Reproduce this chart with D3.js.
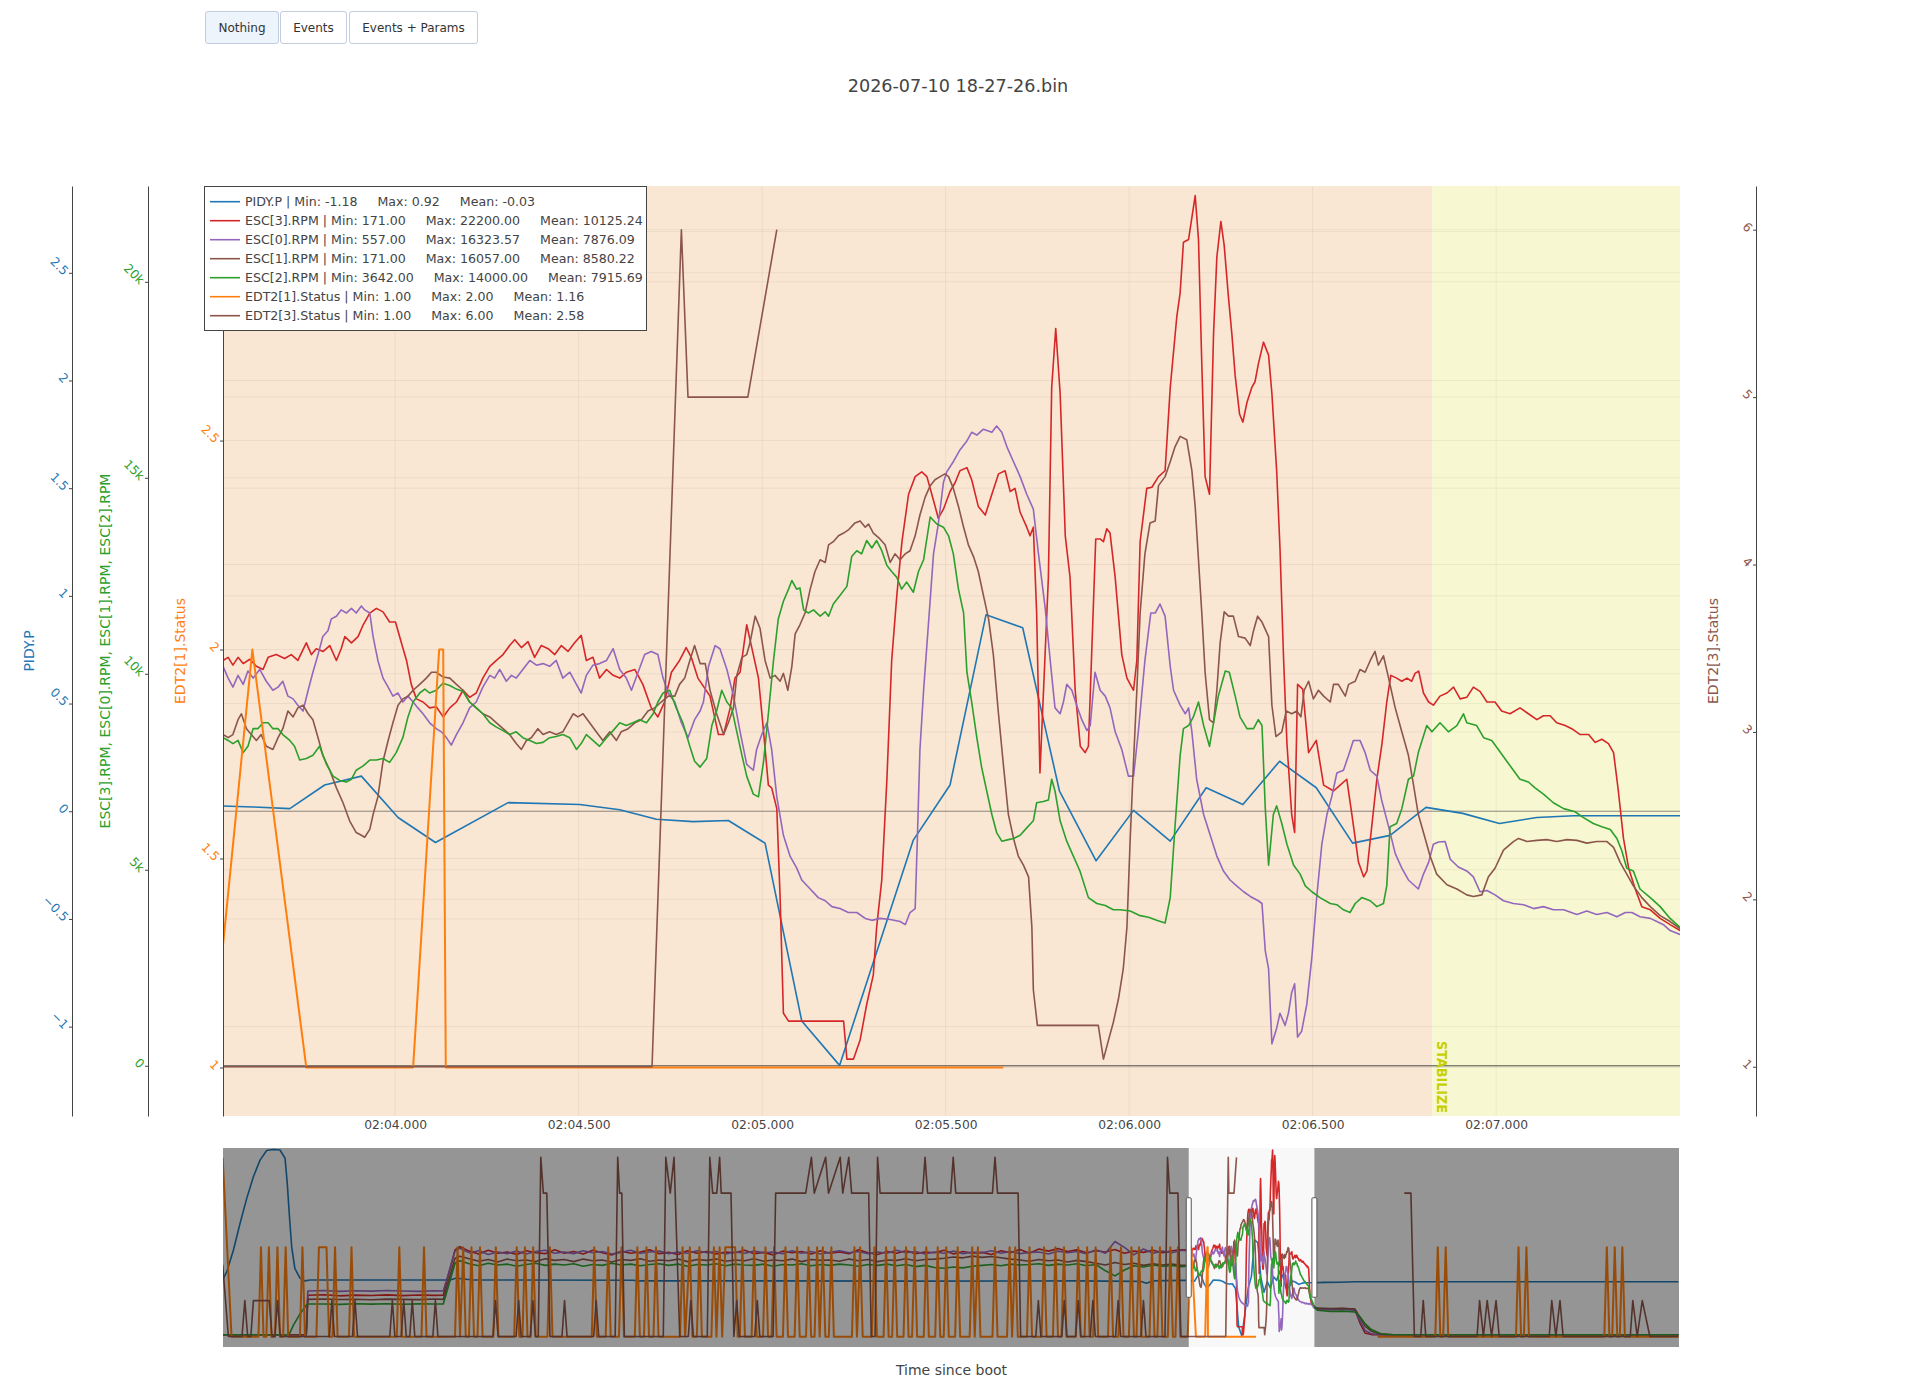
<!DOCTYPE html>
<html>
<head>
<meta charset="utf-8">
<script src="https://cdn.jsdelivr.net/npm/d3@7"></script>
<style>
  html, body { margin: 0; padding: 0; background: #fff; overflow: hidden; }
  #wrap { position: relative; width: 1915px; height: 1378px; }
  .btn { position: absolute; top: 11px; height: 33px; padding: 0; border: 1px solid #c3cde0; border-radius: 3px;
         background: #fff; color: #333; font: 12px "DejaVu Sans", Verdana, sans-serif; }
  .btn.on { background: #eef4fb; }
  svg { position: absolute; left: 0; top: 0; }
</style>
</head>
<body>
<div id="wrap">
  <button class="btn on" style="left:205px;width:74px">Nothing</button>
  <button class="btn" style="left:280px;width:67px">Events</button>
  <button class="btn" style="left:349px;width:129px">Events + Params</button>
  <svg id="chart" width="1915" height="1378"></svg>
</div>
<script>
// ---- data (seconds since boot) ----
const timeTicks = [124, 124.5, 125, 125.5, 126, 126.5, 127]
const pidyTicks = [-1, -0.5, 0, 0.5, 1, 1.5, 2, 2.5]
const escTicks = [0, 5000, 10000, 15000, 20000]
const edt1Ticks = [1, 1.5, 2, 2.5, 3]
const edt3Ticks = [1, 2, 3, 4, 5, 6]

const fullRange = [93.02, 139.02]
const viewRange = [123.531, 127.501]
const pidyRange = [-1.415, 2.903]
const escRange = [-1281, 22444]
const edt1Range = [0.884, 3.109]
const edt3Range = [0.706, 6.261]

const modeStart = [90, 126.826]
const modeEnd = [126.826, 140]
const modeLabel = ['', 'STABILIZE']

const legendStats = [
  ['PIDY.P', '-1.18', '0.92', '-0.03'],
  ['ESC[3].RPM', '171.00', '22200.00', '10125.24'],
  ['ESC[0].RPM', '557.00', '16323.57', '7876.09'],
  ['ESC[1].RPM', '171.00', '16057.00', '8580.22'],
  ['ESC[2].RPM', '3642.00', '14000.00', '7915.69'],
  ['EDT2[1].Status', '1.00', '2.00', '1.16'],
  ['EDT2[3].Status', '1.00', '6.00', '2.58']
]

const pidyP = [
  [93.01,0.04],[93.14,0.22],[93.35,0.69],[93.56,1.27],[93.77,1.81],[93.98,2.28],[94.19,2.64],[94.40,2.85],
  [94.61,2.87],[94.82,2.86],[94.98,2.68],[95.05,2.14],[95.12,1.41],[95.19,0.76],[95.29,0.29],[95.45,0.08],
  [95.61,0.02],[95.77,0.04],[100.19,0.04],[100.40,0.08],[100.61,0.06],[100.93,0.04],[105.98,0.035],[106.09,0.02],
  [110.0,0.02],[115.0,0.015],[120.0,0.02],[122.0,0.01],[122.2,-0.03],[122.4,0.02],[123.3,0.03],[123.43,0.03],
  [123.613,0.02],[123.713,0.012],[123.808,0.122],[123.908,0.163],[124.008,-0.029],[124.110,-0.145],[124.308,0.040],
  [124.503,0.031],[124.612,0.007],[124.712,-0.037],[124.812,-0.048],[124.908,-0.043],[125.008,-0.148],[125.108,-0.974],
  [125.211,-1.18],[125.412,-0.134],[125.512,0.122],[125.610,0.912],[125.710,0.852],[125.810,0.095],[125.910,-0.230],
  [126.012,0.004],[126.112,-0.139],[126.210,0.109],[126.310,0.031],[126.410,0.232],[126.510,0.109],[126.609,-0.148],
  [126.711,-0.112],[126.809,0.018],[126.909,-0.010],[127.009,-0.057],[127.111,-0.029],[127.211,-0.021],[127.311,-0.021],
  [127.411,-0.021],[127.511,-0.021],[127.8,-0.012],[128.3,-0.01],[128.8,0.0],[133,0.002],[139.0,0.0]
]

// ESC overview samples outside the zoomed window
const escBeforeTime = [
  93.0, 95.1, 95.25, 95.45, 95.65, 95.7, 96.2, 96.7, 97.2, 97.7, 98.2, 98.7, 99.2, 99.7, 99.98, 100.35, 100.5,
  100.8, 101.1, 101.4, 101.7, 102.0, 102.3, 102.6, 102.9, 103.2, 103.5,
  103.8, 104.1, 104.4, 104.7, 105.0, 105.3, 105.6, 105.9, 106.2, 106.5,
  106.8, 107.1, 107.4, 107.7, 108.0, 108.3, 108.6, 108.9, 109.2, 109.5,
  109.8, 110.1, 110.4, 110.7, 111.0, 111.3, 111.6, 111.9, 112.2, 112.5,
  112.8, 113.1, 113.4, 113.7, 114.0, 114.3, 114.6, 114.9, 115.2, 115.5,
  115.8, 116.1, 116.4, 116.7, 117.0, 117.3, 117.6, 117.9, 118.2, 118.5,
  118.8, 119.1, 119.4, 119.7, 120.0, 120.3, 120.6, 120.9, 121.2, 121.5,
  121.8, 122.1, 122.4, 122.7, 123.0, 123.3, 123.45
]
const esc3Before = [
  171, 171, 171, 171, 171, 4880, 4950, 4820, 4900, 4860, 4930, 4840, 4910, 4870, 4900, 10300, 10680,
  10150, 9800, 10250, 9900, 10050, 9750, 10200, 9950, 9850, 10300,
  9900, 10100, 9800, 10250, 9950, 9700, 10150, 9900, 10050, 10300,
  9850, 10000, 9750, 10200, 9900, 10100, 9800, 10050, 9950, 10250,
  9850, 10000, 9700, 10150, 9950, 10100, 9800, 10200, 9900, 10050,
  9850, 10300, 9950, 9750, 10100, 9900, 10200, 9850, 10050, 9950,
  10250, 9800, 10100, 9900, 10000, 9750, 10200, 9950, 10350, 9900,
  10400, 10150, 10450, 10100, 10300, 9950, 10200, 10050, 10350, 9900,
  10150, 10000, 10250, 9950, 10200, 10300, 10300
]
const esc0Before = [
  171, 171, 171, 171, 171, 5400, 5450, 5350, 5420, 5380, 5460, 5400, 5350, 5430, 5400, 10150, 10500,
  9950, 10200, 9750, 10050, 9850, 10150, 9800, 10100, 10250, 9900,
  10050, 9850, 10200, 9950, 10100, 9800, 10000, 10250, 9900, 10050,
  10150, 9850, 10050, 9900, 10200, 9950, 10100, 9800, 10050, 9900,
  10150, 9950, 10050, 9850, 10200, 9900, 10100, 9800, 10000, 10200,
  9950, 10100, 9850, 10050, 9900, 10250, 9950, 10100, 9800, 10050,
  9900, 10150, 9850, 10050, 9950, 10200, 9900, 10100, 9850, 10000,
  10050, 9800, 10150, 9950, 10100, 9850, 10300, 9900, 11300, 10600,
  9700, 10400, 9900, 10150, 9950, 10250, 10200
]
const esc1Before = [
  171, 171, 171, 171, 171, 4400, 4450, 4380, 4420, 4360, 4430, 4400, 4370, 4440, 4400, 9300, 9550,
  9250, 8950, 9150, 8850, 9200, 9000, 9100, 8900, 9250, 9050,
  9150, 8900, 9200, 9000, 9100, 8850, 9150, 9050, 9250, 8950,
  9100, 9000, 9200, 8900, 9150, 9050, 9200, 8950, 9100, 9000,
  9250, 8950, 9100, 9000, 9200, 8900, 9150, 9050, 9100, 8950,
  9200, 9000, 9150, 8900, 9100, 9050, 9250, 9000, 9150, 9200,
  9300, 9450, 9350, 9550, 9400, 9500, 9350, 9200, 9100, 8950,
  9150, 9000, 9100, 8850, 9050, 8900, 8700, 8500, 8800, 8550,
  8700, 8450, 8650, 8500, 8600, 8450, 8450
]
const esc2Before = [
  171, 171, 1350, 2650, 3700, 3850, 3850, 3800, 3880, 3830, 3870, 3820, 3860, 3840, 3850, 8700, 9000,
  8650, 8400, 8700, 8500, 8600, 8350, 8550, 8700, 8450, 8600,
  8500, 8650, 8350, 8550, 8450, 8700, 8500, 8600, 8400, 8550,
  8650, 8450, 8600, 8350, 8550, 8500, 8650, 8400, 8600, 8500,
  8450, 8600, 8350, 8550, 8500, 8650, 8400, 8550, 8450, 8600,
  8500, 8350, 8550, 8450, 8600, 8400, 8550, 8300, 8450, 8200,
  8100, 8250, 8150, 8350, 8450, 8550, 8400, 8600, 8500, 8550,
  8650, 8450, 8600, 8500, 8650, 8400, 8550, 7800, 7200, 7900,
  8400, 8250, 8500, 8350, 8450, 8300, 8350
]
const escAfterTime = [127.6, 128.0, 128.4, 128.78, 128.95, 129.1, 129.3, 129.6, 130.0, 134.0, 139.0]
const esc3After = [3300, 3250, 3300, 3200, 1500, 400, 200, 171, 171, 171, 171]
const esc0After = [3200, 3150, 3200, 3100, 1800, 700, 300, 171, 171, 171, 171]
const esc1After = [3350, 3300, 3320, 3250, 2200, 1200, 600, 250, 171, 171, 171]
const esc2After = [3100, 2950, 3000, 2900, 2300, 1500, 800, 300, 171, 171, 171]

// ESC samples inside the zoomed window
const esc3Window = [
  [123.531,10340],[123.545,10420],[123.558,10220],[123.572,10420],[123.586,10260],[123.604,10370],[123.622,10190],
  [123.640,10110],[123.654,10420],[123.676,10490],[123.699,10390],[123.717,10490],[123.735,10340],[123.758,10790],
  [123.772,10490],[123.785,10640],[123.804,10570],[123.822,10720],[123.840,10340],[123.853,10640],[123.863,10950],
  [123.881,10790],[123.899,10950],[123.913,11250],[123.931,11550],[123.949,11670],[123.967,11580],[123.985,11320],
  [124.001,11320],[124.017,10790],[124.031,10340],[124.044,9730],[124.058,9360],[124.076,9280],[124.094,9130],
  [124.112,9160],[124.131,8900],[124.149,9130],[124.167,9280],[124.185,9580],[124.203,9400],[124.221,9510],
  [124.239,9890],[124.258,10190],[124.276,10340],[124.294,10490],[124.312,10720],[124.326,10870],[124.344,10670],
  [124.362,10820],[124.380,10420],[124.398,10720],[124.417,10640],[124.435,10490],[124.453,10720],[124.471,10570],
  [124.489,10790],[124.507,10980],[124.521,10340],[124.539,10420],[124.557,9890],[124.576,10110],[124.594,9960],
  [124.612,9890],[124.630,10040],[124.653,10110],[124.675,9730],[124.698,9130],[124.716,8900],[124.734,9280],
  [124.753,10040],[124.775,10340],[124.793,10670],[124.807,10420],[124.825,9890],[124.858,9430],[124.881,8450],
  [124.895,8450],[124.913,9130],[124.926,9890],[124.940,10040],[124.958,11250],[124.976,10490],[124.990,9890],
  [125.004,8520],[125.017,7160],[125.026,7090],[125.040,6560],[125.049,4290],[125.058,1340],[125.072,1140],
  [125.222,1140],[125.231,171],[125.249,171],[125.267,660],[125.285,1570],[125.303,2320],[125.312,3530],
  [125.326,4740],[125.340,7310],[125.353,10340],[125.367,12000],[125.381,13370],[125.399,14580],[125.417,15030],
  [125.435,15150],[125.449,15030],[125.467,14420],[125.480,13970],[125.494,14200],[125.512,14650],[125.526,14880],
  [125.539,15180],[125.558,15260],[125.571,14950],[125.589,14270],[125.608,14050],[125.626,14580],[125.644,15100],
  [125.662,15180],[125.676,14650],[125.689,14730],[125.703,14120],[125.721,13740],[125.730,13520],[125.739,13740],
  [125.748,11550],[125.757,7470],[125.771,10490],[125.780,12460],[125.789,17300],[125.800,18810],[125.812,17150],
  [125.826,13520],[125.839,12460],[125.853,9580],[125.867,8150],[125.880,7990],[125.889,8150],[125.903,11850],
  [125.909,13440],[125.921,13440],[125.930,13370],[125.939,13700],[125.948,13590],[125.962,12460],[125.980,10490],
  [125.994,9890],[126.012,9580],[126.021,10340],[126.030,13370],[126.048,14730],[126.062,14760],[126.080,15030],
  [126.098,15180],[126.112,17300],[126.130,19120],[126.139,19720],[126.148,21010],[126.162,21080],[126.180,22200],
  [126.189,21080],[126.198,17900],[126.207,15030],[126.219,14580],[126.230,18660],[126.239,20630],[126.250,21540],
  [126.259,20930],[126.271,19570],[126.280,18660],[126.289,17600],[126.301,16620],[126.310,16420],[126.321,16920],
  [126.334,17300],[126.343,17450],[126.352,17900],[126.366,18460],[126.380,18130],[126.389,17150],[126.402,15180],
  [126.411,13210],[126.421,10340],[126.430,8220],[126.443,6410],[126.451,5950],[126.459,9730],[126.473,9610],
  [126.489,7990],[126.510,8300],[126.530,7160],[126.557,7010],[126.575,7160],[126.593,7310],[126.607,6410],
  [126.625,5190],[126.639,4820],[126.648,4970],[126.661,6100],[126.675,7310],[126.689,8220],[126.702,9280],
  [126.713,9960],[126.729,9890],[126.743,9810],[126.757,9890],[126.770,9810],[126.779,10010],[126.789,10070],
  [126.802,9510],[126.816,9280],[126.829,9200],[126.847,9430],[126.866,9510],[126.884,9660],[126.902,9360],
  [126.920,9400],[126.938,9660],[126.956,9550],[126.975,9280],[126.997,9280],[127.015,9050],[127.038,8980],
  [127.065,9130],[127.088,8980],[127.111,8830],[127.129,8930],[127.147,8930],[127.165,8750],[127.188,8680],
  [127.206,8600],[127.229,8450],[127.252,8450],[127.270,8250],[127.288,8330],[127.306,8220],[127.320,7990],
  [127.333,7010],[127.347,5800],[127.361,5040],[127.379,4510],[127.397,4060],[127.420,3980],[127.447,3760],
  [127.474,3600],[127.501,3450]
]
const esc0Window = [
  [123.531,10190],[123.545,9890],[123.558,9660],[123.572,9960],[123.586,9730],[123.599,10070],[123.613,9890],
  [123.631,10110],[123.649,9810],[123.667,9580],[123.681,9660],[123.694,9810],[123.708,9430],[123.722,9360],
  [123.735,9200],[123.749,9050],[123.763,9580],[123.776,10040],[123.790,10490],[123.803,10950],[123.817,11100],
  [123.826,11400],[123.840,11470],[123.853,11630],[123.867,11550],[123.881,11670],[123.894,11550],[123.908,11730],
  [123.917,11630],[123.931,11550],[123.940,10950],[123.953,10340],[123.967,9890],[123.981,9660],[123.994,9430],
  [124.008,9510],[124.021,9280],[124.035,9430],[124.049,9280],[124.062,9130],[124.076,8980],[124.094,8750],
  [124.112,8600],[124.126,8520],[124.140,8370],[124.153,8180],[124.167,8450],[124.185,8750],[124.203,9130],
  [124.221,9280],[124.239,9660],[124.258,9960],[124.271,9890],[124.285,10110],[124.303,9810],[124.317,9960],
  [124.330,9890],[124.348,10110],[124.367,10340],[124.385,10220],[124.403,10260],[124.421,10190],[124.439,10340],
  [124.457,9890],[124.476,10040],[124.494,9730],[124.507,9510],[124.521,9960],[124.539,10220],[124.557,10260],
  [124.576,10340],[124.594,10640],[124.612,10110],[124.630,9890],[124.644,9580],[124.662,10040],[124.680,10490],
  [124.698,10570],[124.716,10490],[124.730,9890],[124.744,9510],[124.762,9280],[124.780,8750],[124.798,8370],
  [124.816,8830],[124.831,9050],[124.840,9280],[124.854,10190],[124.872,10720],[124.885,10640],[124.904,10110],
  [124.922,9430],[124.940,8520],[124.958,7690],[124.976,7540],[124.985,8070],[124.999,8450],[125.013,8750],
  [125.026,8070],[125.040,6860],[125.058,5880],[125.076,5350],[125.094,5050],[125.108,4740],[125.131,4510],
  [125.153,4290],[125.172,4210],[125.190,4060],[125.212,4010],[125.235,3910],[125.258,3910],[125.281,3760],
  [125.299,3710],[125.321,3760],[125.349,3730],[125.376,3680],[125.390,3600],[125.403,3910],[125.417,4010],
  [125.423,5800],[125.430,8070],[125.440,9580],[125.453,11250],[125.467,13060],[125.480,13820],[125.494,14880],
  [125.503,15150],[125.521,15410],[125.539,15710],[125.558,15940],[125.571,16160],[125.585,16090],[125.603,16240],
  [125.626,16160],[125.639,16320],[125.653,16160],[125.667,15790],[125.685,15410],[125.703,15030],[125.721,14580],
  [125.739,14200],[125.753,13060],[125.771,11700],[125.785,10340],[125.798,9130],[125.812,8980],[125.821,9280],
  [125.830,9730],[125.844,9580],[125.857,9200],[125.871,8830],[125.885,8550],[125.894,8680],[125.907,10040],
  [125.921,9580],[125.935,9430],[125.948,9130],[125.962,8520],[125.980,8070],[125.998,7390],[126.012,7390],
  [126.025,8520],[126.043,10340],[126.059,11550],[126.071,11550],[126.084,11780],[126.098,11470],[126.112,10190],
  [126.121,9580],[126.139,9200],[126.153,8980],[126.162,9130],[126.171,8520],[126.184,7310],[126.203,6410],
  [126.221,5880],[126.239,5350],[126.257,4970],[126.275,4740],[126.293,4590],[126.312,4440],[126.330,4320],
  [126.352,4210],[126.362,4140],[126.371,2930],[126.380,2470],[126.389,560],[126.402,960],[126.411,1340],
  [126.425,1030],[126.434,1340],[126.443,1870],[126.451,2090],[126.459,730],[126.470,880],[126.484,1560],
  [126.498,2770],[126.511,4290],[126.525,5650],[126.539,6410],[126.552,6860],[126.566,7470],[126.584,7540],
  [126.598,7920],[126.611,8300],[126.629,8300],[126.643,7990],[126.657,7540],[126.675,7390],[126.688,6780],
  [126.707,6100],[126.725,5420],[126.743,5040],[126.761,4740],[126.788,4510],[126.802,4890],[126.816,5190],
  [126.829,5650],[126.843,5710],[126.861,5720],[126.875,5270],[126.897,5070],[126.920,4970],[126.938,4820],
  [126.956,4440],[126.975,4470],[126.997,4360],[127.020,4210],[127.047,4140],[127.075,4110],[127.102,4010],
  [127.129,4060],[127.156,3980],[127.184,3980],[127.220,3860],[127.247,3950],[127.274,3860],[127.302,3910],
  [127.329,3800],[127.352,3910],[127.370,3910],[127.392,3800],[127.420,3760],[127.438,3680],[127.456,3600],
  [127.474,3450],[127.501,3350]
]
const esc1Window = [
  [123.531,8450],[123.545,8370],[123.558,8450],[123.572,8830],[123.581,8980],[123.595,8600],[123.608,8450],
  [123.622,8300],[123.635,8450],[123.649,8150],[123.667,8070],[123.681,8370],[123.694,8600],[123.708,9050],
  [123.722,8900],[123.735,9130],[123.749,9200],[123.763,8980],[123.776,8830],[123.790,8370],[123.803,7920],
  [123.822,7540],[123.840,7090],[123.858,6710],[123.876,6250],[123.894,5950],[123.908,5880],[123.917,5830],
  [123.931,6030],[123.940,6410],[123.953,6860],[123.967,7770],[123.981,8300],[123.994,8750],[124.008,9200],
  [124.021,9360],[124.035,9430],[124.049,9580],[124.067,9730],[124.085,9890],[124.099,10040],[124.112,10040],
  [124.130,9920],[124.149,9890],[124.167,9730],[124.185,9580],[124.203,9280],[124.221,9130],[124.239,8980],
  [124.258,8900],[124.276,8750],[124.294,8600],[124.312,8450],[124.330,8220],[124.344,8070],[124.358,8300],
  [124.371,8370],[124.389,8600],[124.403,8450],[124.421,8520],[124.439,8450],[124.457,8520],[124.471,8750],
  [124.485,8980],[124.498,8900],[124.512,8980],[124.530,8750],[124.548,8520],[124.566,8300],[124.585,8520],
  [124.603,8300],[124.616,8520],[124.635,8600],[124.653,8750],[124.671,8830],[124.689,9050],[124.707,9130],
  [124.725,9280],[124.744,9430],[124.762,9430],[124.775,9730],[124.789,9890],[124.803,10340],[124.816,10720],
  [124.831,10260],[124.845,10260],[124.858,9580],[124.876,8980],[124.895,8450],[124.908,8750],[124.922,9130],
  [124.931,9960],[124.945,10420],[124.958,10490],[124.967,10790],[124.981,11470],[124.994,11170],[125.008,10340],
  [125.022,9890],[125.035,9960],[125.049,9810],[125.058,10010],[125.070,9580],[125.081,10190],[125.090,11020],
  [125.103,11250],[125.117,11550],[125.131,12160],[125.144,12610],[125.158,12910],[125.172,12840],[125.181,13290],
  [125.194,13370],[125.208,13520],[125.222,13590],[125.235,13670],[125.253,13850],[125.267,13900],[125.281,13740],
  [125.290,13820],[125.303,13590],[125.321,13440],[125.335,13290],[125.349,12840],[125.362,13060],[125.376,12910],
  [125.390,13060],[125.403,13140],[125.417,13520],[125.430,14050],[125.444,14500],[125.458,14800],[125.471,14950],
  [125.485,15030],[125.498,15100],[125.508,15030],[125.521,14730],[125.535,14270],[125.549,13740],[125.562,13290],
  [125.576,12990],[125.589,12610],[125.603,12000],[125.617,11400],[125.630,10490],[125.644,8980],[125.658,7620],
  [125.671,6410],[125.685,5800],[125.698,5350],[125.712,5120],[125.726,4820],[125.735,3530],[125.739,1940],
  [125.750,1030],[125.916,1030],[125.930,171],[125.944,660],[125.957,1110],[125.971,1710],[125.984,2470],
  [125.994,3530],[126.003,5800],[126.012,7770],[126.021,9580],[126.030,11550],[126.043,13060],[126.057,13850],
  [126.071,13900],[126.080,14800],[126.098,15030],[126.112,15410],[126.125,15790],[126.139,16057],[126.157,15970],
  [126.171,15180],[126.180,14270],[126.189,12910],[126.198,11550],[126.207,10040],[126.219,8830],[126.230,8750],
  [126.239,9580],[126.248,10790],[126.259,11580],[126.271,11470],[126.284,11470],[126.298,10950],[126.316,10910],
  [126.330,10720],[126.339,11100],[126.350,11470],[126.362,11320],[126.380,10950],[126.389,9200],[126.400,8400],
  [126.416,8520],[126.428,9050],[126.443,8980],[126.457,9050],[126.468,8900],[126.477,9580],[126.489,9810],
  [126.502,9360],[126.516,9580],[126.530,9430],[126.548,9280],[126.557,9730],[126.570,9730],[126.589,9430],
  [126.598,9730],[126.616,9810],[126.629,10110],[126.643,10040],[126.657,10340],[126.670,10570],[126.679,10220],
  [126.693,10460],[126.707,9890],[126.725,9130],[126.743,8520],[126.761,7920],[126.775,7160],[126.788,6410],
  [126.802,5950],[126.820,5350],[126.838,4890],[126.866,4620],[126.893,4510],[126.920,4360],[126.938,4320],
  [126.961,4360],[126.979,4820],[126.997,5040],[127.020,5500],[127.047,5720],[127.061,5800],[127.084,5720],
  [127.111,5750],[127.138,5770],[127.165,5720],[127.193,5770],[127.220,5750],[127.247,5680],[127.274,5720],
  [127.302,5720],[127.320,5570],[127.338,5190],[127.356,4890],[127.374,4590],[127.397,4290],[127.420,4060],
  [127.447,3830],[127.474,3680],[127.501,3500]
]
const esc2Window = [
  [123.531,8370],[123.545,8300],[123.558,8220],[123.572,8300],[123.586,7990],[123.599,8150],[123.613,8600],
  [123.626,8600],[123.640,8750],[123.654,8750],[123.667,8600],[123.681,8600],[123.694,8450],[123.713,8300],
  [123.726,8150],[123.740,7800],[123.758,7840],[123.776,7920],[123.794,8150],[123.813,7690],[123.831,7390],
  [123.849,7280],[123.867,7240],[123.881,7310],[123.894,7540],[123.913,7650],[123.931,7800],[123.949,7800],
  [123.967,7840],[123.985,7740],[124.003,7990],[124.021,8370],[124.035,8900],[124.049,9280],[124.067,9510],
  [124.081,9610],[124.094,9510],[124.112,9580],[124.130,9760],[124.149,9700],[124.167,9610],[124.185,9550],
  [124.203,9280],[124.221,9130],[124.239,8980],[124.258,8750],[124.276,8640],[124.294,8550],[124.312,8450],
  [124.330,8520],[124.348,8370],[124.367,8300],[124.385,8220],[124.403,8250],[124.421,8370],[124.439,8400],
  [124.457,8450],[124.476,8370],[124.494,8070],[124.507,8220],[124.521,8450],[124.539,8300],[124.557,8150],
  [124.576,8370],[124.594,8550],[124.612,8750],[124.630,8680],[124.648,8750],[124.666,8830],[124.685,8750],
  [124.703,8980],[124.716,9280],[124.730,9510],[124.748,9580],[124.766,9130],[124.784,8750],[124.803,8150],
  [124.816,7770],[124.831,7620],[124.849,7840],[124.863,8680],[124.876,9050],[124.890,9580],[124.904,9280],
  [124.917,9130],[124.931,8520],[124.945,7920],[124.958,7390],[124.976,6930],[124.990,6860],[125.004,7770],
  [125.017,8980],[125.031,10340],[125.044,11400],[125.058,11850],[125.072,12160],[125.081,12380],[125.094,12160],
  [125.103,12190],[125.113,11630],[125.126,11550],[125.140,11630],[125.158,11470],[125.172,11580],[125.181,11470],
  [125.194,11780],[125.212,12000],[125.231,12230],[125.244,12990],[125.258,13140],[125.271,13060],[125.285,13400],
  [125.299,13210],[125.312,13400],[125.326,13140],[125.340,12760],[125.353,12610],[125.367,12460],[125.380,12160],
  [125.394,12340],[125.412,12080],[125.426,12610],[125.440,12910],[125.458,14000],[125.476,13820],[125.494,13740],
  [125.508,13520],[125.521,13060],[125.535,12160],[125.549,11550],[125.558,10040],[125.571,9280],[125.585,8370],
  [125.598,7620],[125.612,7010],[125.626,6410],[125.639,5950],[125.653,5730],[125.671,5770],[125.685,5800],
  [125.703,5880],[125.721,6070],[125.739,6250],[125.748,6710],[125.766,6740],[125.780,6780],[125.789,7310],
  [125.798,7010],[125.812,6250],[125.830,5730],[125.848,5350],[125.866,4970],[125.889,4290],[125.912,4140],
  [125.935,4090],[125.957,3980],[125.975,3980],[126.003,3950],[126.030,3830],[126.053,3790],[126.075,3710],
  [126.098,3642],[126.112,4290],[126.125,6100],[126.139,7920],[126.148,8600],[126.162,8680],[126.175,8900],
  [126.189,9280],[126.203,8680],[126.219,8150],[126.230,8750],[126.243,9430],[126.262,10070],[126.273,10040],
  [126.289,9430],[126.302,8900],[126.321,8600],[126.339,8600],[126.352,8830],[126.362,8680],[126.371,6560],
  [126.380,5120],[126.393,6410],[126.402,6630],[126.416,6180],[126.430,5650],[126.448,5120],[126.466,4890],
  [126.480,4590],[126.498,4440],[126.520,4290],[126.548,4140],[126.566,4110],[126.584,3980],[126.602,3910],
  [126.616,4140],[126.634,4290],[126.657,4210],[126.675,4060],[126.693,4140],[126.702,4590],[126.711,6100],
  [126.729,6180],[126.743,6560],[126.761,7310],[126.775,7390],[126.788,7990],[126.811,8680],[126.825,8520],
  [126.847,8750],[126.870,8520],[126.893,8680],[126.911,8980],[126.920,8750],[126.947,8680],[126.966,8370],
  [126.988,8300],[127.006,8070],[127.029,7770],[127.047,7540],[127.065,7310],[127.088,7240],[127.106,7090],
  [127.129,6930],[127.156,6710],[127.184,6560],[127.215,6480],[127.238,6330],[127.265,6180],[127.288,6100],
  [127.311,6030],[127.329,5800],[127.342,5500],[127.356,5040],[127.374,4970],[127.392,4510],[127.420,4290],
  [127.447,4060],[127.474,3760],[127.501,3530]
]

const edt1Status = [
  [93.01,3],[93.29,1],[94.14,1],[94.22,2],[94.30,1],[94.39,1],[94.47,2],[94.55,1],[94.66,1],[94.74,2],[94.82,1],
  [94.92,1],[95.00,2],[95.08,1],[95.45,1],[95.53,2],[95.61,1],[95.97,1],[96.05,2],[96.29,2],[96.37,1],
  [96.48,1],[96.56,2],[96.64,1],[97.00,1],[97.08,2],[97.16,1],[98.51,1],[98.59,2],[98.67,1],[99.29,1],[99.37,2],[99.45,1],
  [100.35,1],[100.43,2],[100.51,1],[100.61,2],[100.69,1],[100.79,1],[100.87,2],[100.95,1],[101.06,1],[101.14,2],[101.22,1],
  [101.56,1],[101.64,2],[101.72,1],[102.22,1],[102.30,2],[102.38,1],[102.48,1],[102.56,2],[102.64,1],[102.74,1],[102.82,2],[102.90,1],
  [103.27,1],[103.35,2],[103.43,1],[104.67,1],[104.75,2],[104.83,1],[105.11,1],[105.19,2],[105.27,1],[105.53,1],[105.61,2],[105.69,1],
  [106.03,1],[106.11,2],[106.19,1],[106.32,1],[106.40,2],[106.48,1],[106.62,1],[106.70,2],[106.78,1],
  [107.46,1],[107.54,2],[107.62,1],[107.77,2],[107.85,1],[107.99,1],[108.07,2],[108.15,1],
  [108.45,1],[108.53,2],[108.61,1],[108.71,2],[108.79,1],[108.89,2],[109.20,2],[109.28,1],[109.35,1],[109.43,2],[109.51,1],
  [109.72,1],[109.80,2],[109.88,1],[110.08,1],[110.16,2],[110.24,1],[110.35,1],[110.43,2],[110.51,1],[110.71,1],[110.79,2],[110.87,1],
  [111.08,1],[111.16,2],[111.24,1],[111.44,1],[111.52,2],[111.60,1],[111.71,1],[111.79,2],[111.87,1],[111.97,2],[112.05,1],
  [112.16,1],[112.24,2],[112.32,1],[112.89,1],[112.97,2],[113.05,1],[113.15,2],[113.23,1],[113.52,1],[113.60,2],[113.68,1],
  [113.89,1],[113.97,2],[114.05,1],[114.16,1],[114.24,2],[114.32,1],[114.52,1],[114.60,2],[114.68,1],[114.79,1],[114.87,2],[114.95,1],
  [115.16,1],[115.24,2],[115.32,1],[115.52,1],[115.60,2],[115.68,1],[115.79,1],[115.87,2],[115.95,1],[116.15,1],[116.23,2],[116.31,1],
  [116.61,1],[116.69,2],[116.77,1],[116.87,2],[116.95,1],[117.33,1],[117.41,2],[117.49,1],[117.79,1],[117.87,2],[117.95,1],[118.05,2],[118.13,1],
  [118.42,1],[118.50,2],[118.58,1],[118.88,1],[118.96,2],[119.04,1],[119.24,1],[119.32,2],[119.40,1],[119.51,1],[119.59,2],[119.67,1],
  [119.96,1],[120.04,2],[120.12,1],[120.24,1],[120.32,2],[120.40,1],[120.51,1],[120.59,2],[120.67,1],[120.98,1],[121.06,2],[121.14,1],
  [121.31,1],[121.39,2],[121.47,1],[121.64,1],[121.72,2],[121.80,1],[121.88,1],[121.96,2],[122.04,1],
  [122.29,1],[122.37,2],[122.45,1],[122.54,1],[122.62,2],[122.70,1],[122.87,1],[122.95,2],[123.03,1],[123.11,1],[123.19,2],[123.27,1],
  [123.498,1],[123.611,2],[123.758,1],[124.049,1],[124.120,2],[124.131,2],[124.138,1],[125.657,1],[125.657,null],
  [129.5,1],[131.32,1],[131.40,2],[131.48,1],[131.57,1],[131.65,2],[131.73,1],[133.87,1],[133.95,2],[134.03,1],
  [134.12,1],[134.20,2],[134.28,1],[136.66,1],[136.74,2],[136.82,1],[136.91,1],[136.99,2],[137.07,1],
  [137.15,1],[137.23,2],[137.31,1],[139.0,1]
]

const edt3Status = [
  [93.01,3],[93.19,1],[93.62,1],[93.71,2],[93.80,1],[93.90,1],[93.98,2],[94.48,2],[94.57,1],[94.66,1],[94.74,2],[94.83,1],
  [96.38,1],[96.46,2],[96.54,1],[97.11,1],[97.19,2],[97.27,1],[98.29,1],[98.37,2],[98.45,1],[98.65,1],[98.73,2],[98.81,1],
  [98.92,1],[99.00,2],[99.08,1],[99.65,1],[99.73,2],[99.81,1],[101.55,1],[101.63,2],[101.71,1],
  [102.28,1],[102.36,2],[102.44,1],[102.73,1],[102.81,2],[102.89,1],
  [102.98,1],[103.06,6],[103.14,5],[103.25,5],[103.35,1],[103.73,1],[103.81,2],[103.89,1],[104.73,1],[104.81,2],[104.89,1],
  [105.41,1],[105.49,6],[105.55,5],[105.62,5],[105.70,1],[106.93,1],[107.01,6],[107.15,5],[107.27,6],[107.45,1],
  [107.72,1],[107.80,2],[107.88,1],
  [108.32,1],[108.40,6],[108.49,5],[108.62,5],[108.71,6],[108.76,5],[109.07,5],[109.16,1],
  [109.25,2],[109.33,1],[109.82,1],[109.90,2],[109.98,1],
  [110.40,1],[110.48,5],[111.43,5],[111.61,6],[111.70,5],[112.06,6],[112.15,5],[112.52,6],[112.60,5],[112.79,6],[112.88,5],[113.42,5],[113.50,1],
  [113.62,1],[113.70,6],[113.78,5],[115.12,5],[115.20,6],[115.28,5],[116.01,5],[116.09,6],[116.17,5],[117.33,5],[117.41,6],[117.49,5],[118.14,5],[118.22,1],
  [118.70,1],[118.78,2],[118.86,1],[119.52,1],[119.60,2],[119.68,1],[119.96,1],[120.04,2],[120.12,1],
  [120.42,1],[120.50,2],[120.58,1],[121.22,1],[121.30,2],[121.38,1],[122.02,1],[122.10,2],[122.18,1],
  [122.78,1],[122.86,6],[122.93,5],[123.19,5],[123.28,1],
  [124.700,1],[124.780,6],[124.798,5],[124.961,5],[125.040,6],[125.040,null],
  [130.34,5],[130.55,5],[130.66,1],[130.86,1],[130.94,2],[131.02,1],[132.64,1],[132.72,2],[132.84,1],[132.96,2],[133.10,1],
  [133.24,2],[133.34,1],[134.92,1],[135.00,2],[135.13,1],[135.26,2],[135.36,1],[137.48,1],[137.56,2],[137.70,1],
  [137.86,2],[138.10,1],[139.0,1]
]

// ---- layout / style ----
const FONT = '"DejaVu Sans", Verdana, sans-serif'
const plot = {left: 223, right: 1680, top: 186, bottom: 1116}
const slider = {left: 223, right: 1679, top: 1148, bottom: 1347}
const colors = {
  'PIDY.P': '#1f77b4', 'ESC[3].RPM': '#d62728', 'ESC[0].RPM': '#9467bd', 'ESC[1].RPM': '#8c564b',
  'ESC[2].RPM': '#2ca02c', 'EDT2[1].Status': '#ff7f0e', 'EDT2[3].Status': '#8c564b'
}
const modeColors = {'': '#f9e6d3', 'STABILIZE': '#f7f7d1'}

function joinEsc(beforeVals, windowPairs, afterVals) {
  const n = Math.min(escBeforeTime.length, beforeVals.length)
  const before = escBeforeTime.slice(0, n).map((t, i) => [t, beforeVals[i]])
  const after = escAfterTime.map((t, i) => [t, afterVals[i]])
  return before.concat(windowPairs, after)
}

const traces = [
  {name: 'PIDY.P', axis: 'pidy', data: pidyP},
  {name: 'ESC[3].RPM', axis: 'esc', data: joinEsc(esc3Before, esc3Window, esc3After)},
  {name: 'ESC[0].RPM', axis: 'esc', data: joinEsc(esc0Before, esc0Window, esc0After)},
  {name: 'ESC[1].RPM', axis: 'esc', data: joinEsc(esc1Before, esc1Window, esc1After)},
  {name: 'ESC[2].RPM', axis: 'esc', data: joinEsc(esc2Before, esc2Window, esc2After)},
  {name: 'EDT2[1].Status', axis: 'edt1', data: edt1Status},
  {name: 'EDT2[3].Status', axis: 'edt3', data: edt3Status}
]

const svg = d3.select('#chart')

const x = d3.scaleLinear().domain(viewRange).range([plot.left, plot.right])
const yMain = {
  pidy: d3.scaleLinear().domain(pidyRange).range([plot.bottom, plot.top]),
  esc: d3.scaleLinear().domain(escRange).range([plot.bottom, plot.top]),
  edt1: d3.scaleLinear().domain(edt1Range).range([plot.bottom, plot.top]),
  edt3: d3.scaleLinear().domain(edt3Range).range([plot.bottom, plot.top])
}
const xs = d3.scaleLinear().domain(fullRange).range([slider.left, slider.right])
const ySlider = {}
Object.keys(yMain).forEach(k => {
  ySlider[k] = d3.scaleLinear().domain(yMain[k].domain()).range([slider.bottom, slider.top])
})

const defs = svg.append('defs')
defs.append('clipPath').attr('id', 'clipMain').append('rect')
  .attr('x', plot.left).attr('y', plot.top).attr('width', plot.right - plot.left).attr('height', plot.bottom - plot.top)
defs.append('clipPath').attr('id', 'clipSlider').append('rect')
  .attr('x', slider.left).attr('y', slider.top).attr('width', slider.right - slider.left).attr('height', slider.bottom - slider.top)

// title
svg.append('text').text('2026-07-10 18-27-26.bin')
  .attr('x', 958).attr('y', 92).attr('text-anchor', 'middle')
  .attr('font-family', FONT).attr('font-size', 17.6).attr('fill', '#444')

// ---- main plot ----
const main = svg.append('g').attr('clip-path', 'url(#clipMain)')

modeStart.forEach((s, i) => {
  main.append('rect')
    .attr('x', x(s)).attr('y', plot.top)
    .attr('width', x(modeEnd[i]) - x(s)).attr('height', plot.bottom - plot.top)
    .attr('fill', modeColors[modeLabel[i]])
})

const grid = main.append('g').attr('stroke', 'rgba(0,0,0,0.05)').attr('stroke-width', 1)
timeTicks.forEach(t => {
  grid.append('line').attr('x1', x(t)).attr('x2', x(t)).attr('y1', plot.top).attr('y2', plot.bottom)
})
;[['pidy', pidyTicks], ['esc', escTicks], ['edt1', edt1Ticks], ['edt3', edt3Ticks]].forEach(([k, ticks]) => {
  ticks.forEach(v => {
    grid.append('line').attr('x1', plot.left).attr('x2', plot.right).attr('y1', yMain[k](v)).attr('y2', yMain[k](v))
  })
})

// zero lines
;[['pidy', 0.55], ['esc', 0.9]].forEach(([k, op]) => {
  main.append('line').attr('x1', plot.left).attr('x2', plot.right)
    .attr('y1', yMain[k](0)).attr('y2', yMain[k](0))
    .attr('stroke', '#444').attr('stroke-opacity', op).attr('stroke-width', 1)
})

function drawTraces(g, xScale, yScales, width) {
  traces.forEach(tr => {
    const line = d3.line()
      .defined(d => d[1] !== null)
      .x(d => xScale(d[0]))
      .y(d => yScales[tr.axis](d[1]))
    g.append('path').datum(tr.data)
      .attr('d', line)
      .attr('fill', 'none')
      .attr('stroke', colors[tr.name])
      .attr('stroke-width', tr.name === 'EDT2[1].Status' ? width + 0.4 : width)
      .attr('stroke-linejoin', 'round')
  })
}
drawTraces(main, x, yMain, 1.6)

// mode label
modeStart.forEach((s, i) => {
  if (!modeLabel[i]) return
  const lx = x(s) + 5.2
  const ly = 1041
  svg.append('text').text(modeLabel[i])
    .attr('transform', `translate(${lx},${ly}) rotate(90)`)
    .attr('font-family', FONT).attr('font-weight', 'bold').attr('font-size', 13.5)
    .attr('textLength', 72).attr('lengthAdjust', 'spacingAndGlyphs')
    .attr('fill', '#c5d000')
})

// ---- axes ----
function yAxis(scale, ticks, fmt, xPos, color) {
  const g = svg.append('g').attr('transform', `translate(${xPos},0)`)
    .call(d3.axisLeft(scale).tickValues(ticks).tickFormat(fmt).tickSizeInner(3).tickSizeOuter(0).tickPadding(3))
  g.attr('font-family', FONT).attr('font-size', 12.3)
  g.select('.domain').attr('stroke', '#444')
  g.selectAll('.tick line').attr('stroke', '#444')
  g.selectAll('.tick text').attr('fill', color).attr('transform', 'rotate(45,-6,0)')
  return g
}
const numFmt = d3.format('~g')
yAxis(yMain.pidy, pidyTicks, numFmt, 72, colors['PIDY.P'])
yAxis(yMain.esc, escTicks, d => d === 0 ? '0' : (d / 1000) + 'k', 148, colors['ESC[2].RPM'])
yAxis(yMain.edt1, edt1Ticks, numFmt, plot.left, colors['EDT2[1].Status'])
yAxis(yMain.edt3, edt3Ticks, numFmt, 1756, colors['EDT2[3].Status'])

function axisTitle(text, xPos, color) {
  svg.append('text').text(text)
    .attr('transform', `translate(${xPos},${(plot.top + plot.bottom) / 2}) rotate(-90)`)
    .attr('text-anchor', 'middle').attr('dy', '0.35em')
    .attr('font-family', FONT).attr('font-size', 14).attr('fill', color)
}
axisTitle('PIDY.P', 29, colors['PIDY.P'])
axisTitle('ESC[3].RPM, ESC[0].RPM, ESC[1].RPM, ESC[2].RPM', 105, colors['ESC[2].RPM'])
axisTitle('EDT2[1].Status', 180, colors['EDT2[1].Status'])
axisTitle('EDT2[3].Status', 1713, colors['EDT2[3].Status'])

const timeFmt = d3.utcFormat('%M:%S.%L')
const xAxisG = svg.append('g').attr('transform', `translate(0,${plot.bottom})`)
  .call(d3.axisBottom(x).tickValues(timeTicks).tickSize(0).tickPadding(4)
    .tickFormat(d => timeFmt(new Date(Math.round(d * 1000)))))
xAxisG.attr('font-family', FONT).attr('font-size', 12.3)
xAxisG.select('.domain').remove()
xAxisG.selectAll('.tick text').attr('fill', '#444')

svg.append('text').text('Time since boot')
  .attr('x', (plot.left + plot.right) / 2).attr('y', 1375).attr('text-anchor', 'middle')
  .attr('font-family', FONT).attr('font-size', 14).attr('fill', '#444')

// ---- range slider ----
const sl = svg.append('g')
sl.append('rect').attr('x', slider.left).attr('y', slider.top)
  .attr('width', slider.right - slider.left).attr('height', slider.bottom - slider.top).attr('fill', '#f8f8f8')
const slTraces = sl.append('g').attr('clip-path', 'url(#clipSlider)')
drawTraces(slTraces, xs, ySlider, 1.6)
const w0 = xs(viewRange[0])
const w1 = xs(viewRange[1])
sl.append('rect').attr('x', slider.left).attr('y', slider.top)
  .attr('width', w0 - slider.left).attr('height', slider.bottom - slider.top)
  .attr('fill', '#000').attr('fill-opacity', 0.4)
sl.append('rect').attr('x', w1).attr('y', slider.top)
  .attr('width', slider.right - w1).attr('height', slider.bottom - slider.top)
  .attr('fill', '#000').attr('fill-opacity', 0.4)
const sh = slider.bottom - slider.top
;[w0, w1].forEach(wx => {
  sl.append('rect').attr('x', wx - 2.5).attr('y', slider.top + sh / 4)
    .attr('width', 5).attr('height', sh / 2).attr('rx', 1)
    .attr('fill', '#fff').attr('stroke', '#555').attr('stroke-width', 1)
})

// ---- legend ----
const gap = '\u00a0'.repeat(5)
const leg = svg.append('g').attr('transform', 'translate(204.5,186.5)')
leg.append('rect').attr('width', 442).attr('height', 144)
  .attr('fill', '#fff').attr('stroke', '#444').attr('stroke-width', 1)
legendStats.forEach((row, i) => {
  const cy = 15.2 + i * 19
  leg.append('line').attr('x1', 5.5).attr('x2', 35.5).attr('y1', cy).attr('y2', cy)
    .attr('stroke', colors[row[0]]).attr('stroke-width', 1.6)
  leg.append('text')
    .text(`${row[0]} | Min: ${row[1]}${gap}Max: ${row[2]}${gap}Mean: ${row[3]}`)
    .attr('x', 40.5).attr('y', cy).attr('dy', '0.35em')
    .attr('font-family', FONT).attr('font-size', 12.6).attr('fill', '#444')
})
</script>
</body>
</html>
